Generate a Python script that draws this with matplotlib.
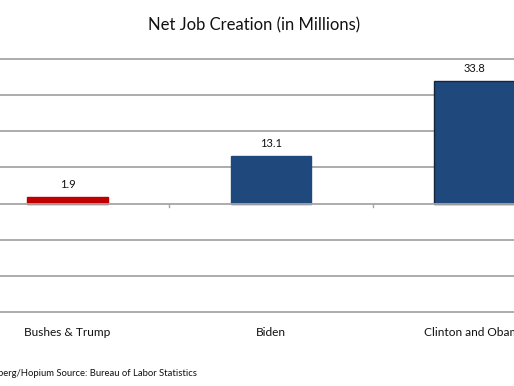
import matplotlib
matplotlib.use("Agg")
import matplotlib.pyplot as plt

categories = ["Bushes & Trump", "Biden", "Clinton and Obama"]
values = [1.9, 13.1, 33.8]
colors = ["#C00000", "#1F497D", "#1F497D"]
edges = ["#C00000", "#1F497D", "#14243a"]
y_ticks = [-30, -20, -10, 0, 10, 20, 30, 40]
title = "Net Job Creation (in Millions)"
source = "Chart: Bloomberg/Hopium Source: Bureau of Labor Statistics"

W, H = 514, 386
fig = plt.figure(figsize=(W / 100, H / 100), dpi=100)
plt.rcParams['font.family'] = ['Lato', 'DejaVu Sans']

left_px = 67.5 - 101.75
width_px = 3 * 203.5
top_px, bot_px = 59, 312
ax = fig.add_axes([left_px / W, (H - bot_px) / H, width_px / W, (bot_px - top_px) / H])
ax.set_xlim(-0.5, 2.5)
ax.set_ylim(-30, 40)

for y in y_ticks:
    if y != 0:
        ax.axhline(y, color="#a6a6a6", lw=1.3, zorder=0, clip_on=False)
ax.axhline(0, color="#a6a6a6", lw=1.3, zorder=3)

x = list(range(len(categories)))
ax.bar(x, values, width=0.395, color=colors, edgecolor=edges, linewidth=1.0, zorder=2)
for xi, v in zip(x, values):
    ax.annotate(f"{v}", (xi, v), xytext=(0, 5), textcoords="offset points",
                ha="center", va="bottom", fontsize=8, color="#111111")

for s in ax.spines.values():
    s.set_visible(False)
ax.set_yticks([])
ax.set_xticks([])
for sep in [0.5, 1.5]:
    ax.plot([sep, sep], [0, -1.0], color="#a6a6a6", lw=1.0, zorder=3)

for xi, c in zip(x, categories):
    ax.annotate(c, (xi, -30), xytext=(0, -15), textcoords="offset points",
                ha="center", va="center", fontsize=8.6, color="#111111",
                annotation_clip=False)

fig.text(254 / W, 1 - 25 / H, title, ha="center", va="center", fontsize=12, color="#111111")
fig.text(197 / W, 1 - 373 / H, source, ha="right", va="center", fontsize=6.8, color="#111111")

fig.savefig("out.png", dpi=100)
